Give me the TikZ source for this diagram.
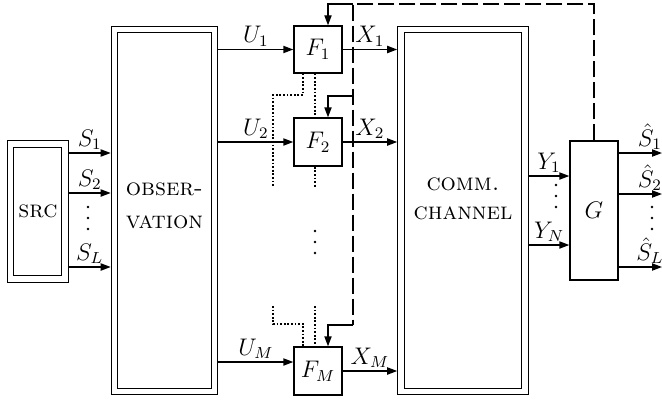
\documentclass[tikz,border=0pt,12pt]{standalone}
\usetikzlibrary{arrows.meta}
\begin{document}
\begin{tikzpicture}[x=0.5pt,y=-0.5pt,
  box/.style={draw, line width=0.7pt, inner sep=0pt},
  dbox/.style={draw, double, double distance=2.6pt, line width=0.6pt, inner sep=0pt, outer sep=1.9pt},
  arr/.style={-{Triangle[length=5pt,width=3.6pt]}, line width=0.7pt},
  lbl/.style={inner sep=1.2pt},
  dotl/.style={line width=0.7pt, dash pattern=on 0.9pt off 0.9pt},
  dashl/.style={line width=0.7pt, dash pattern=on 8pt off 2.5pt},
  sctext/.style={font=\scshape, align=center, inner sep=0pt}
]
\useasboundingbox (0,0) rectangle (662,401);

% boxes
\node[dbox, minimum width=27.25pt, minimum height=67.5pt] (src) at (37.75,211.5) {};
\node[sctext] (srct) at (38,211) {src};
\node[dbox, minimum width=50pt, minimum height=181pt] (obs) at (164.5,210.5) {};
\node[sctext] (obst) at (164.5,206) {obser-\\[2pt]vation};
\node[dbox, minimum width=62pt, minimum height=181pt] (comm) at (463,210.5) {};
\node[sctext] (commt) at (463,199) {comm.\\[0pt]channel};
\node[box, minimum width=24pt, minimum height=23.5pt] (f1) at (318,49.5) {$F_1$};
\node[box, minimum size=24pt] (f2) at (318,142) {$F_2$};
\node[box, minimum size=24pt] (fm) at (318,371) {$F_M$};
\node[box, minimum width=24pt, minimum height=69.5pt] (g) at (594,210.5) {$G$};

% source outputs
\foreach \yy/\n in {153/1,193/2,267/L}
  \draw[arr] (src.east |- 0,\yy) -- node[above,lbl]{$S_{\n}$} (obs.west |- 0,\yy);

% observations
\draw[arr] (obs.east |- f1) -- node[above,lbl]{$U_1$} (f1);
\draw[arr] (obs.east |- f2) -- node[above,lbl]{$U_2$} (f2);
\draw[arr] (obs.east |- 0,362) -- node[above,lbl]{$U_M$} (fm.west |- 0,362);

% encoder outputs
\draw[arr] (f1) -- node[above,lbl]{$X_1$} (comm.west |- f1);
\draw[arr] (f2) -- node[above,lbl]{$X_2$} (comm.west |- f2);
\draw[arr] (fm) -- node[above,lbl]{$X_M$} (comm.west |- fm);

% channel outputs
\draw[arr] (comm.east |- 0,176) -- node[above,lbl]{$Y_1$} (g.west |- 0,176);
\draw[arr] (comm.east |- 0,245) -- node[above,lbl]{$Y_N$} (g.west |- 0,245);

% decoder outputs
\coordinate (redge) at (662,0);
\draw[arr] (g.east |- 0,153) -- node[above,lbl,pos=0.72]{$\hat S_1$} (redge |- 0,153);
\draw[arr] (g.east |- 0,194) -- node[above,lbl,pos=0.72]{$\hat S_2$} (redge |- 0,194);
\draw[arr] (g.east |- 0,267) -- node[above,lbl,pos=0.72]{$\hat S_L$} (redge |- 0,267);

% feedback
\coordinate (fb1) at (353,4);
\coordinate (fb2) at (353,96);
\coordinate (fbm) at (353,325);
\draw[dashl] (g.north) |- (fb1) -- (fbm);
\draw[arr] (fb1) -| ([xshift=5pt]f1.north);
\draw[arr] (fb2) -| ([xshift=5pt]f2.north);
\draw[arr] (fbm) -| ([xshift=5pt]fm.north);

% dotted side information
\coordinate (da) at (273,95);
\coordinate (db) at (273,187);
\coordinate (dc) at (315,187);
\coordinate (dd) at (273,306);
\coordinate (de) at (273,324);
\coordinate (df) at (315,306);
\draw[dotl] ([xshift=-7.5pt]f1.south) |- (da) -- (db);
\draw[dotl] ([xshift=-1.5pt]f1.south) -- ([xshift=-1.5pt]f2.north);
\draw[dotl] ([xshift=-1.5pt]f2.south) -- (dc);
\draw[dotl] (dd) -- (de) -| ([xshift=-7.5pt]fm.north);
\draw[dotl] (df) -- ([xshift=-1.5pt]fm.north);

% vertical dots
\foreach \yy in {207,218,229} \fill (88,\yy) circle (0.65pt);
\foreach \yy in {231,242,253} \fill (315,\yy) circle (0.65pt);
\foreach \yy in {185,196,207} \fill (556,\yy) circle (0.65pt);
\foreach \yy in {207,218,229} \fill (652,\yy) circle (0.65pt);
\end{tikzpicture}
\end{document}
